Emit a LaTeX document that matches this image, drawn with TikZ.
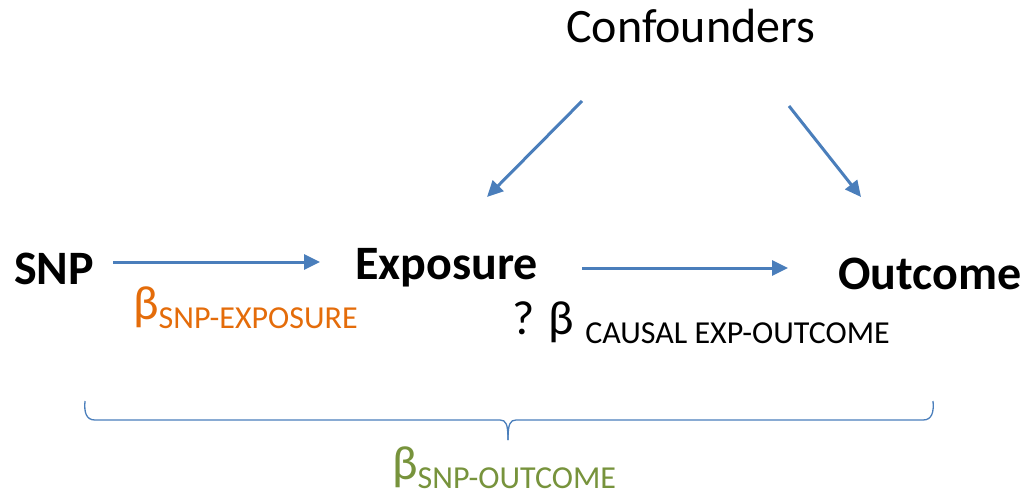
\documentclass[tikz,border=0pt]{standalone}
\usepackage{fontspec}
\setmainfont{Carlito}
\usetikzlibrary{arrows.meta}
\definecolor{arrowblue}{HTML}{4A7EBB}
\definecolor{betaorange}{HTML}{E46C0A}
\definecolor{betagreen}{HTML}{77933C}
\tikzset{
  var/.style={anchor=base west, inner sep=0pt, font=\fontsize{48}{52}\selectfont\bfseries},
  conf/.style={anchor=base west, inner sep=0pt, font=\fontsize{48}{52}\selectfont},
  lbl/.style={anchor=base west, inner sep=0pt, font=\fontsize{48}{52}\selectfont},
  link/.style={draw=arrowblue, line width=3pt, -{Triangle[length=16pt,width=15pt]}},
}
\newcommand{\sbs}[1]{\raisebox{-9pt}{\fontsize{32}{34}\selectfont #1}}
\begin{document}
\begin{tikzpicture}[x=1pt,y=-1pt]
\useasboundingbox (0,0) rectangle (1024,496);
\node[conf] (conf) at (566,42) {Confounders};
\node[var] (snp) at (14,284) {SNP};
\node[var] (exp) at (355,279) {Exposure};
\node[var] (out) at (838,289) {Outcome};
\coordinate (c1) at (582,101);
\coordinate (c2) at (789,106);
\coordinate (e1) at (487,197);
\coordinate (o1) at (861,197);
\coordinate (s1) at (113,262);
\coordinate (x1) at (320,262);
\coordinate (x2) at (582,268);
\coordinate (o2) at (788,268);
\draw[link] (s1) -- (x1);
\draw[link] (x2) -- (o2);
\draw[link] (c1) -- (e1);
\draw[link] (c2) -- (o1);
\node[lbl, text=betaorange] (b1) at (133,319) {β\sbs{SNP-EXPOSURE}};
\node[lbl] (b2) at (512,334) {? β \sbs{CAUSAL EXP-OUTCOME}};
\draw[arrowblue, line width=1.3pt] (85,401) .. controls (84,412) and (86,420) .. (95,420) -- (500,420) .. controls (506,420) and (508,424) .. (508,440);
\draw[arrowblue, line width=1.3pt] (933,401) .. controls (934,412) and (932,420) .. (923,420) -- (516,420) .. controls (510,420) and (508,424) .. (508,440);
\node[lbl, text=betagreen] (b3) at (392,479) {β\sbs{SNP-OUTCOME}};
\end{tikzpicture}
\end{document}
